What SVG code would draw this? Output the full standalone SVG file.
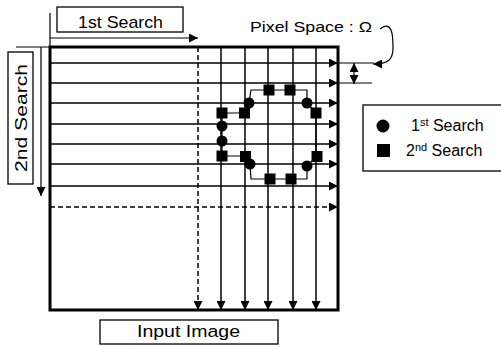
<svg xmlns="http://www.w3.org/2000/svg" width="501" height="347" viewBox="0 0 501 347">
<style>
.t{font-family:"Liberation Sans","DejaVu Sans",sans-serif;fill:#000}
.box{fill:#fff;stroke:#000;stroke-width:1.3}
.ln{stroke:#000;stroke-width:1.5;fill:none}
.dl{stroke:#000;stroke-width:1.5;fill:none;stroke-dasharray:5 3}
.thin{stroke:#000;stroke-width:1.2;fill:none}
</style>
<defs>
<marker id="ah" viewBox="0 0 10 10" refX="10" refY="5" markerWidth="9" markerHeight="9" markerUnits="userSpaceOnUse" orient="auto-start-reverse">
<path d="M0,0 L10,5 L0,10 Z" fill="#000"/>
</marker>
</defs>
<rect width="501" height="347" fill="#fff"/>
<g id="connectors">
<line class="ln" x1="50" y1="63" x2="338" y2="63" marker-end="url(#ah)"/>
<line class="ln" x1="50" y1="83" x2="338" y2="83" marker-end="url(#ah)"/>
<line class="ln" x1="50" y1="103" x2="338" y2="103" marker-end="url(#ah)"/>
<line class="ln" x1="50" y1="124" x2="338" y2="124" marker-end="url(#ah)"/>
<line class="ln" x1="50" y1="144" x2="338" y2="144" marker-end="url(#ah)"/>
<line class="ln" x1="50" y1="164" x2="338" y2="164" marker-end="url(#ah)"/>
<line class="ln" x1="50" y1="186" x2="338" y2="186" marker-end="url(#ah)"/>
<line class="dl" x1="50" y1="207" x2="338" y2="207" marker-end="url(#ah)"/>
<line class="dl" x1="198" y1="47" x2="198" y2="310" marker-end="url(#ah)"/>
<line class="ln" x1="221" y1="47" x2="221" y2="310" marker-end="url(#ah)"/>
<line class="ln" x1="245" y1="47" x2="245" y2="310" marker-end="url(#ah)"/>
<line class="ln" x1="268" y1="47" x2="268" y2="310" marker-end="url(#ah)"/>
<line class="ln" x1="293" y1="47" x2="293" y2="310" marker-end="url(#ah)"/>
<line class="ln" x1="316" y1="47" x2="316" y2="310" marker-end="url(#ah)"/>
<line class="thin" x1="50" y1="13" x2="50" y2="47"/>
<line class="thin" x1="50" y1="38" x2="198" y2="38" marker-end="url(#ah)"/>
<line class="thin" x1="16" y1="47" x2="50" y2="47"/>
<line class="thin" x1="41" y1="47" x2="41" y2="196" marker-end="url(#ah)"/>
<line class="thin" x1="338" y1="63" x2="374" y2="63"/>
<line class="thin" x1="338" y1="83" x2="372" y2="83"/>
<line class="thin" x1="354" y1="63" x2="354" y2="84" marker-start="url(#ah)" marker-end="url(#ah)"/>
<path class="thin" d="M380 29 C393 19, 393 38, 393 48 C393 60, 388 64, 373 64" marker-end="url(#ah)"/>
<polyline class="thin" points="222,113 245,113 249,103 251,90 307,90 307,103 316,113 316,157 307,166 307,179 251,179 250,164 245,156 222,156 222,113"/>
</g>
<g id="frame">
<rect x="50" y="47" width="288" height="263" fill="none" stroke="#000" stroke-width="3"/>
</g>
<g id="first-search-points">
<circle cx="249" cy="103" r="5.5"/>
<circle cx="307" cy="103" r="5.5"/>
<circle cx="222" cy="126" r="5.5"/>
<circle cx="222" cy="141" r="5.5"/>
<circle cx="250" cy="164" r="5.5"/>
<circle cx="307" cy="166" r="5.5"/>
</g>
<g id="second-search-points">
<rect x="263.5" y="84.5" width="11" height="11"/>
<rect x="284.5" y="84.5" width="11" height="11"/>
<rect x="216.5" y="107.5" width="11" height="11"/>
<rect x="239" y="107.5" width="11" height="11"/>
<rect x="310.5" y="107.5" width="11" height="11"/>
<rect x="216.5" y="150.5" width="11" height="11"/>
<rect x="240" y="151" width="11" height="11"/>
<rect x="311.5" y="151" width="11" height="11"/>
<rect x="264.5" y="173.5" width="11" height="11"/>
<rect x="285.5" y="173.5" width="11" height="11"/>
</g>
<g id="label-1st">
<rect class="box" x="57" y="7" width="126" height="25"/>
<text class="t" x="78" y="28" font-size="17" textLength="85" lengthAdjust="spacingAndGlyphs">1st Search</text>
</g>
<g id="label-2nd">
<rect class="box" x="8" y="52" width="25" height="132"/>
<text class="t" x="0" y="0" font-size="17" text-anchor="middle" transform="translate(27,118) rotate(-90)" textLength="108" lengthAdjust="spacingAndGlyphs">2nd Search</text>
</g>
<g id="label-pixel">
<text class="t" x="250" y="32" font-size="14" textLength="122" lengthAdjust="spacingAndGlyphs">Pixel Space : Ω</text>
</g>
<g id="legend">
<rect class="box" x="363" y="105" width="140" height="66"/>
<circle cx="383" cy="126" r="6.5"/>
<rect x="377" y="144" width="13" height="13"/>
<text class="t" x="411" y="131" font-size="16">1<tspan font-size="11" dy="-5">st</tspan><tspan dy="5"> Search</tspan></text>
<text class="t" x="406" y="156" font-size="16">2<tspan font-size="11" dy="-5">nd</tspan><tspan dy="5"> Search</tspan></text>
</g>
<g id="label-input">
<rect class="box" x="100" y="320" width="178" height="24"/>
<text class="t" x="137" y="337" font-size="16" textLength="103" lengthAdjust="spacingAndGlyphs">Input Image</text>
</g>
</svg>
